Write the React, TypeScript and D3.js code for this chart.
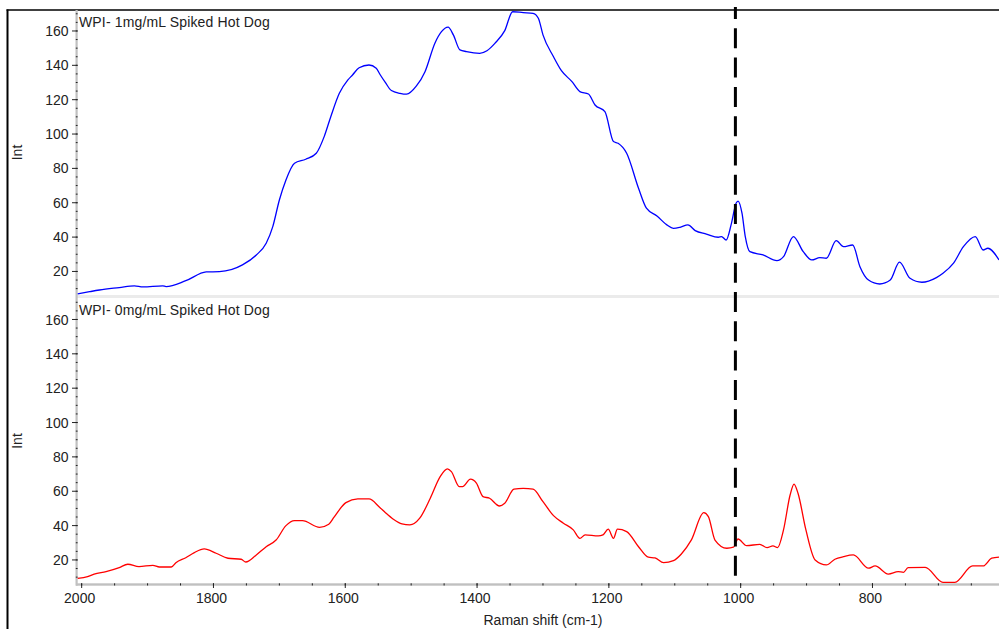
import React from 'react';
import * as d3 from 'd3';

const topShift = [2006, 1988, 1973, 1943, 1920, 1907, 1877, 1872, 1842, 1811, 1791, 1756, 1735, 1720, 1710, 1700, 1690, 1677, 1660, 1644, 1632, 1622, 1609, 1596, 1589, 1579, 1564, 1553, 1547, 1539, 1530, 1517, 1507, 1492, 1479, 1464, 1454, 1444, 1436, 1426, 1416, 1396, 1385, 1373, 1358, 1346, 1330, 1315, 1307, 1300, 1284, 1272, 1256, 1244, 1231, 1221, 1206, 1193, 1186, 1173, 1155, 1143, 1127, 1112, 1102, 1092, 1080, 1069, 1052, 1034, 1029, 1022, 1014, 1007, 1004, 998, 993, 986, 966, 945, 935, 920, 905, 892, 880, 870, 855, 844, 830, 819, 806, 789, 773, 759, 743, 725, 703, 693, 677, 662, 644, 632, 625, 608];
const topInt = [6.9, 8.2, 9.2, 10.6, 11.6, 11.0, 11.6, 11.2, 14.6, 19.7, 19.9, 23.8, 29.6, 36.4, 46.1, 61.6, 73.3, 83, 85.3, 88.8, 98.5, 110.1, 123.7, 131.5, 134.4, 138.6, 140.2, 138.3, 134.5, 129.9, 125.3, 123.7, 123.2, 128, 136.3, 152.9, 159.6, 162.2, 157.7, 149, 148, 147, 148.5, 152.8, 160.2, 171.2, 170.7, 170.3, 167.4, 157.7, 145, 136.9, 130.5, 124.7, 123.3, 116.9, 113, 95.6, 94.6, 88.8, 68.4, 56.8, 52.3, 47.1, 45.1, 45.7, 47.1, 43.8, 41.8, 39.9, 40.3, 38.3, 48, 59.7, 61, 53.9, 40.3, 31.5, 29.6, 26.3, 28.6, 40.3, 31.5, 26.7, 28, 27.7, 37.9, 34.4, 35.4, 22.8, 15, 12.7, 15, 25.4, 16, 13.7, 16.4, 18.9, 24.8, 34.4, 40.3, 32.5, 33.5, 26.7];

const bottomShift = [2006, 1991, 1981, 1963, 1943, 1930, 1913, 1892, 1882, 1864, 1857, 1842, 1829, 1814, 1796, 1778, 1758, 1751, 1735, 1720, 1705, 1690, 1677, 1665, 1639, 1625, 1617, 1599, 1581, 1564, 1548, 1539, 1527, 1514, 1502, 1487, 1471, 1456, 1445, 1439, 1427, 1422, 1410, 1401, 1391, 1381, 1366, 1358, 1344, 1330, 1315, 1300, 1284, 1269, 1254, 1244, 1236, 1216, 1209, 1201, 1193, 1187, 1173, 1155, 1140, 1130, 1117, 1102, 1090, 1075, 1056, 1049, 1039, 1021, 1011, 1004, 991, 971, 960, 951, 944, 935, 925, 919, 913, 901, 887, 870, 857, 844, 829, 806, 796, 776, 761, 753, 746, 720, 693, 675, 648, 632, 619, 608];
const bottomInt = [9.3, 10.3, 11.8, 13.2, 15.5, 17.5, 16.1, 16.9, 15.9, 15.9, 18.4, 21.3, 24.3, 26.4, 23.9, 21, 20.4, 18.8, 22.9, 27.7, 31.6, 40, 42.9, 42.9, 39, 40.8, 44.9, 53.4, 55.5, 55.5, 50.7, 47.5, 43.7, 41, 40.4, 44.3, 55.9, 68.5, 73, 71.4, 62.7, 62.7, 67, 64.7, 56.9, 55.9, 51.4, 53, 61.2, 61.7, 61.2, 53.9, 45.8, 41.4, 37.5, 32.6, 34.6, 34, 34.6, 37.9, 32.6, 37.9, 36.5, 27.7, 21.6, 21.2, 18.4, 19.6, 23.5, 31.5, 47.5, 45.2, 31.6, 26.8, 27.4, 32.2, 28.3, 29.1, 27.2, 28.2, 27.2, 37.5, 57.8, 64.2, 58.8, 37.5, 20, 17.1, 20.4, 21.9, 22.9, 15.2, 16.5, 11.8, 13.2, 12.8, 15.5, 15.7, 7.0, 7.0, 16.5, 16.5, 21, 21.6];

const yMajorTicks = [20, 40, 60, 80, 100, 120, 140, 160];
const xMajorTicks = [2000, 1800, 1600, 1400, 1200, 1000, 800];
const markerShift = 1008;
const panelTitles = ['WPI- 1mg/mL Spiked Hot Dog', 'WPI- 0mg/mL Spiked Hot Dog'];
const seriesColors = ['#0000ff', '#ff0000'];
const yLabel = 'Int';
const xLabel = 'Raman shift (cm-1)';

const FONT = "'Liberation Sans', Arial, sans-serif";

export default function App() {
  const W = 999;
  const H = 629;
  const x = d3.scaleLinear().domain([2008.6, 608]).range([76, 999]);
  const panels = [
    { y: d3.scaleLinear().domain([6, 172.5]).range([295.5, 9.5]), top: 10, bottom: 295, shift: topShift, ints: topInt },
    { y: d3.scaleLinear().domain([6, 172.5]).range([584, 298]), top: 298, bottom: 584, shift: bottomShift, ints: bottomInt },
  ];
  const minorY = d3.range(10, 171, 5);
  const minorX = d3.range(2000, 607, -50);

  return (
    <svg width={W} height={H} style={{ position: 'absolute', left: 0, top: 0, background: '#fff' }} fontFamily={FONT}>
      <defs>
        {panels.map((p, i) => (
          <clipPath id={`clip${i}`} key={i}>
            <rect x={77} y={p.top} width={W - 77} height={p.bottom - p.top} />
          </clipPath>
        ))}
      </defs>
      <rect x={0} y={0} width={W} height={H} fill="#fff" />
      {/* frame */}
      <line x1={7.5} y1={9.5} x2={7.5} y2={H} stroke="#000" strokeWidth={2} />
      <line x1={6.5} y1={10} x2={W} y2={10} stroke="#000" strokeWidth={1.6} />
      {/* separator band */}
      <rect x={77} y={295} width={W - 77} height={3} fill="#ebebeb" />
      {/* x axis band */}
      <rect x={76} y={583.3} width={W - 76} height={2.4} fill="#c0c0c0" />
      {/* y axis band */}
      <rect x={75.5} y={10} width={2.2} height={575.7} fill="#c0c0c0" />

      {panels.map((p, i) => {
        const line = d3
          .line<number>()
          .x((_, k) => x(p.shift[k]))
          .y((d) => p.y(d))
          .curve(d3.curveMonotoneX);
        return (
          <g key={i}>
            {minorY.map((v) => (
              <line key={'m' + v} x1={75.8} x2={77.6} y1={p.y(v)} y2={p.y(v)} stroke="#222" strokeWidth={1} />
            ))}
            {yMajorTicks.map((v) => (
              <g key={v}>
                <line x1={72} x2={77.6} y1={p.y(v)} y2={p.y(v)} stroke="#222" strokeWidth={1} />
                <text x={68.5} y={p.y(v)} dy="0.36em" textAnchor="end" fontSize={14} fill="#222">
                  {v}
                </text>
              </g>
            ))}
            <text
              transform={`translate(21.5, ${(p.top + p.bottom) / 2}) rotate(-90)`}
              textAnchor="middle"
              fontSize={14}
              fill="#222"
            >
              {yLabel}
            </text>
            <g clipPath={`url(#clip${i})`}>
              <path d={line(p.ints) || ''} fill="none" stroke={seriesColors[i]} strokeWidth={1.3} />
            </g>
            <text x={79} y={p.top + 17.3} fontSize={14} fill="#222" letterSpacing={0.15}>
              {panelTitles[i]}
            </text>
          </g>
        );
      })}

      {/* x ticks */}
      {minorX.map((v) => (
        <line key={'xm' + v} x1={x(v)} x2={x(v)} y1={583.3} y2={585.5} stroke="#222" strokeWidth={1} />
      ))}
      {xMajorTicks.map((v) => (
        <g key={'x' + v}>
          <line x1={x(v)} x2={x(v)} y1={583.3} y2={588} stroke="#222" strokeWidth={1} />
          <text x={x(v) - 2} y={603.3} textAnchor="middle" fontSize={14} fill="#222">
            {v}
          </text>
        </g>
      ))}
      <text x={543} y={625.3} textAnchor="middle" fontSize={14} fill="#222">
        {xLabel}
      </text>

      {/* marker line */}
      <line
        x1={x(markerShift)}
        x2={x(markerShift)}
        y1={7}
        y2={577}
        stroke="#000"
        strokeWidth={3}
        strokeDasharray="20 9.3"
        strokeDashoffset={8}
      />
    </svg>
  );
}
